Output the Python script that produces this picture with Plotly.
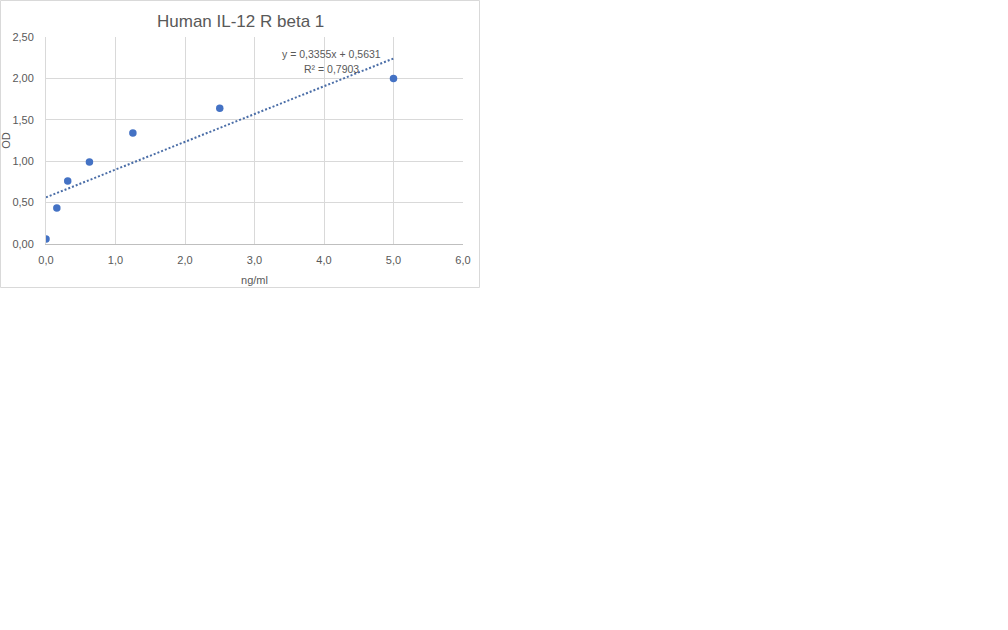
"""Human IL-12 R beta 1 standard curve, OD vs concentration with linear trendline."""

import plotly.graph_objects as go

# standard concentrations (ng/ml) and measured OD
conc = [0.0, 0.156, 0.3125, 0.625, 1.25, 2.5, 5.0]
od = [0.06, 0.435, 0.76, 0.99, 1.34, 1.64, 2.0]

# linear trendline as reported in the chart: y = 0,3355x + 0,5631
trend_x = [0.0, 5.0]
trend_y = [0.5631, 2.2406]
trend_eq = "y = 0,3355x + 0,5631"
trend_r2 = "R² = 0,7903"

W, H = 1008, 630
grey_txt = "#595959"
blue = "#4472C4"
FONT = "Liberation Sans"

fig = go.Figure()

fig.add_trace(go.Scatter(
    x=trend_x,
    y=trend_y,
    mode="lines",
    line=dict(color="#4A6DA7", width=2, dash="2px,2px"),
    hoverinfo="skip",
    showlegend=False,
))
fig.add_trace(go.Scatter(
    x=conc,
    y=od,
    mode="markers",
    marker=dict(color=blue, size=7.5),
    showlegend=False,
))

fig.update_layout(
    width=W,
    height=H,
    autosize=False,
    margin=dict(l=0, r=0, t=0, b=0, autoexpand=False),
    paper_bgcolor="white",
    plot_bgcolor="white",
    separators=",.",
    font=dict(family=FONT, size=11, color=grey_txt),
    xaxis=dict(
        domain=[46 / W, 463 / W],
        range=[0, 6],
        dtick=1,
        tickformat=".1f",
        showgrid=True,
        gridcolor="#D9D9D9",
        zeroline=False,
        showline=True,
        linecolor="#BFBFBF",
        ticks="",
        automargin=False,
        ticklabelstandoff=6,
        title=dict(text="ng/ml", font=dict(size=11, color=grey_txt), standoff=11),
    ),
    yaxis=dict(
        domain=[1 - 244 / H, 1 - 37 / H],
        range=[0, 2.5],
        dtick=0.5,
        tickformat=".2f",
        showgrid=True,
        gridcolor="#D9D9D9",
        zeroline=False,
        showline=True,
        linecolor="#D9D9D9",
        ticks="",
        automargin=False,
        ticklabelstandoff=9,
        title=dict(text="OD", font=dict(size=11, color=grey_txt), standoff=2),
    ),
    annotations=[
        dict(
            text="Human IL-12 R beta 1",
            x=240 / W, y=1 - 22 / H,
            xref="paper", yref="paper",
            showarrow=False,
            font=dict(size=17, color=grey_txt),
            xanchor="center", yanchor="middle",
        ),
        dict(
            text=trend_eq,
            x=331 / W, y=1 - 54 / H,
            xref="paper", yref="paper",
            showarrow=False,
            font=dict(size=10.5, color=grey_txt),
            xanchor="center", yanchor="middle",
        ),
        dict(
            text=trend_r2,
            x=331 / W, y=1 - 69 / H,
            xref="paper", yref="paper",
            showarrow=False,
            font=dict(size=10.5, color=grey_txt),
            xanchor="center", yanchor="middle",
        ),
    ],
    shapes=[
        dict(
            type="rect",
            xref="paper", yref="paper",
            x0=0.5 / W, x1=479.5 / W,
            y0=1 - 287.5 / H, y1=1 - 0.5 / H,
            line=dict(color="#D9D9D9", width=1),
            fillcolor="rgba(0,0,0,0)",
            layer="below",
        ),
    ],
)

# page body has a default margin and scrollbars; drop them so the figure
# sits exactly at the window corner
page_css = (
    "document.documentElement.style.margin='0';"
    "document.documentElement.style.padding='0';"
    "document.documentElement.style.overflow='hidden';"
    "document.body.style.margin='0';"
    "document.body.style.padding='0';"
    "document.body.style.overflow='hidden';"
)
fig.write_html(
    "out.html",
    config={"displayModeBar": False},
    post_script=page_css,
)
